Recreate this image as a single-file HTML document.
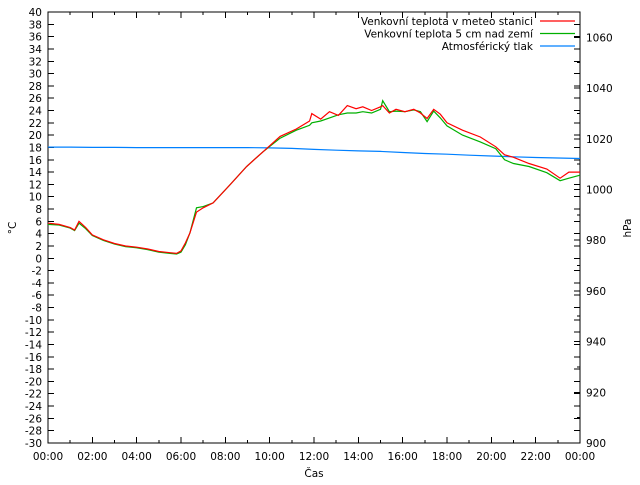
<!DOCTYPE html>
<html><head><meta charset="utf-8"><style>
body{margin:0;background:#fff}
svg text{font-family:"DejaVu Sans","Liberation Sans",sans-serif;font-size:10.5px;fill:#000}
</style></head><body>
<svg id="c" width="640" height="480" xmlns="http://www.w3.org/2000/svg"></svg>
<script>
const hoursT=[0,0.5,1,1.2,1.4,1.7,2,2.5,3,3.5,4,4.5,5,5.5,5.8,6,6.2,6.4,6.7,7,7.45,8.2,8.96,9.7,10.47,11.2,11.8,11.9,12.3,12.7,13.1,13.5,13.9,14.2,14.6,15,15.1,15.4,15.7,16.1,16.5,16.8,17.1,17.4,17.7,18,18.7,19.5,20.2,20.6,21,21.7,22.5,23.1,23.5,24];
const tempStation=[5.7,5.5,5.0,4.6,6.0,5.0,3.8,3.0,2.4,2.0,1.8,1.5,1.1,0.9,0.8,1.2,2.5,4.1,7.5,8.2,9.0,11.9,14.9,17.3,19.8,21.0,22.3,23.5,22.6,23.8,23.2,24.8,24.3,24.6,24.0,24.6,24.8,23.6,24.2,23.8,24.2,23.6,22.7,24.2,23.4,22.0,20.8,19.7,18.1,16.8,16.4,15.4,14.5,13.0,14.0,14.0];
const temp5cm=[5.5,5.4,4.9,4.5,5.7,4.8,3.7,2.9,2.3,1.9,1.7,1.4,1.0,0.8,0.7,1.0,2.2,4.1,8.2,8.4,9.0,11.9,14.9,17.3,19.5,20.8,21.6,22.0,22.3,22.8,23.3,23.6,23.6,23.8,23.6,24.2,25.6,23.8,23.9,23.8,24.1,23.8,22.2,23.9,22.8,21.5,20.0,18.9,17.8,16.0,15.4,14.9,13.9,12.6,13.0,13.5];
const hoursP=[0,1,2,3,4,5,6,7,8,9,10,11,12,13,14,15,16,17,18,19,20,21,22,23,24];
const pressure=[1016.7,1016.7,1016.6,1016.6,1016.5,1016.5,1016.5,1016.5,1016.5,1016.5,1016.4,1016.2,1015.8,1015.5,1015.2,1015.0,1014.6,1014.2,1013.9,1013.5,1013.2,1012.9,1012.6,1012.4,1012.2];
const xLabels=["00:00","02:00","04:00","06:00","08:00","10:00","12:00","14:00","16:00","18:00","20:00","22:00","00:00"];
const L=48,R=580,T=12,B=443;
const X=h=>L+h/24*(R-L);
const Y=v=>B-(v+30)/70*(B-T);
const Y2=p=>B-(p-900)/170*(B-T);
const svg=document.getElementById('c');
const NS="http://www.w3.org/2000/svg";
function mk(tag,attrs,parent){const e=document.createElementNS(NS,tag);for(const k in attrs)e.setAttribute(k,attrs[k]);(parent||svg).appendChild(e);return e;}
const g=mk('g',{});


let d='';
for(let v=-30;v<=40;v+=2){const y=Y(v).toFixed(1);d+=`M${L} ${y}h6M${R} ${y}h-6`;
 const t=mk('text',{x:42,y:+y+4,'text-anchor':'end'},g);t.textContent=v;
 
 }
for(let p=900;p<=1070;p+=10){const y=Y2(p).toFixed(1);d+=`M${R} ${y}h-${p%20?3:6}`;
 if(p%20===0&&p<=1060){const t=mk('text',{x:586,y:+y+4},g);t.textContent=p;
 
 }}
for(let h=0;h<=24;h++){const x=X(h).toFixed(1);const s=h%2?3:6;d+=`M${x} ${B}v-${s}M${x} ${T}v${s}`;}
xLabels.forEach((lb,i)=>{const t=mk('text',{x:X(i*2),y:460,'text-anchor':'middle'},g);t.textContent=lb;
 
 });
mk('path',{d:d,stroke:'#000','stroke-width':1,fill:'none','shape-rendering':'crispEdges'},g);
mk('rect',{x:L,y:T,width:R-L,height:B-T,fill:'none',stroke:'#000','shape-rendering':'crispEdges'},g);
const xt=mk('text',{x:314,y:477,'text-anchor':'middle'});xt.textContent='Čas';


const yt=mk('text',{x:16,y:228,'text-anchor':'middle',transform:'rotate(-90 16 228)'});yt.textContent='°C';


const y2t=mk('text',{x:631,y:228,'text-anchor':'middle',transform:'rotate(-90 631 228)'});y2t.textContent='hPa';


function line(xs,vs,fy,col,name){const pts=xs.map((h,i)=>X(h).toFixed(1)+','+fy(vs[i]).toFixed(1)).join(' ');
 const e=mk('polyline',{points:pts,fill:'none',stroke:col,'stroke-width':1.2});
 
 }
line(hoursP,pressure,Y2,'#0080ff','series-pressure');
line(hoursT,temp5cm,Y,'#00b000','series-temp-5cm');
line(hoursT,tempStation,Y,'#ff0000','series-temp-station');
const leg=[['Venkovní teplota v meteo stanici','#ff0000'],['Venkovní teplota 5 cm nad zemí','#00b000'],['Atmosférický tlak','#0080ff']];
leg.forEach((l,i)=>{const y=21+i*12.5;
 const t=mk('text',{x:533,y:y+4,'text-anchor':'end'});t.textContent=l[0];
 
 
 const s=mk('line',{x1:540,x2:575,y1:y,y2:y,stroke:l[1],'stroke-width':1.2});
 
 });
</script>
</body></html>
